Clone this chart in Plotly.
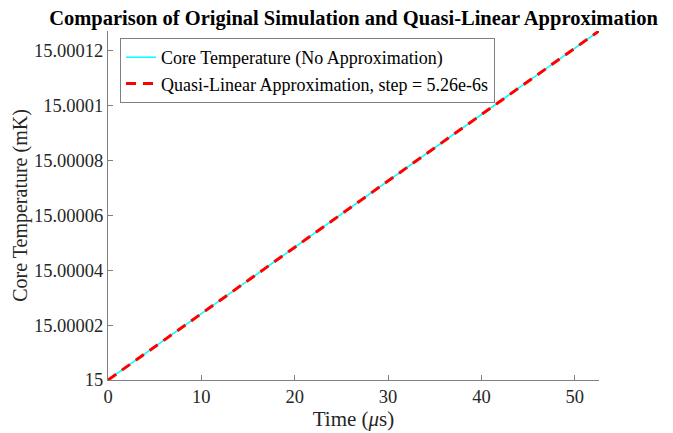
import plotly.graph_objects as go

time_us = [0.0, 5.26, 10.52, 15.78, 21.04, 26.30, 31.56, 36.82, 42.08, 47.34, 52.60]
core_temp_mK = [15.0, 15.0000127, 15.0000254, 15.0000381, 15.0000508, 15.0000635,
                15.0000762, 15.0000889, 15.0001016, 15.0001143, 15.000127]
approx_temp_mK = [15.0, 15.0000127, 15.0000254, 15.0000381, 15.0000508, 15.0000635,
                  15.0000762, 15.0000889, 15.0001016, 15.0001143, 15.000127]
y_tick_vals = [15.0, 15.00002, 15.00004, 15.00006, 15.00008, 15.0001, 15.00012]
y_tick_text = ["15", "15.00002", "15.00004", "15.00006", "15.00008", "15.0001", "15.00012"]
x_tick_vals = [0, 10, 20, 30, 40, 50]

font = "Liberation Serif, Times New Roman, serif"

W, H = 665, 425
L, T, PW, PH = 100, 23, 491, 349

fig = go.Figure()
fig.add_trace(go.Scatter(x=time_us, y=core_temp_mK, mode="lines",
                         name="Core Temperature (No Approximation)",
                         line=dict(color="#00FFFF", width=1.5)))
fig.add_trace(go.Scatter(x=time_us, y=approx_temp_mK, mode="lines",
                         name="Quasi-Linear Approximation, step = 5.26e-6s",
                         line=dict(color="#FF0000", width=3, dash="10px,7px")))

axis_common = dict(showgrid=False, zeroline=False, showline=True, linecolor="#808080",
                   linewidth=1, ticks="inside", ticklen=5, tickcolor="#808080",
                   tickfont=dict(family=font, size=18.5, color="#262626"),
                   mirror=False, automargin=False)

fig.update_layout(
    width=W, height=H,
    margin=dict(l=L, r=W - L - PW, t=T, b=H - T - PH),
    paper_bgcolor="white", plot_bgcolor="white",
    title=dict(text="<b>Comparison of Original Simulation and Quasi-Linear Approximation</b>",
               font=dict(family=font, size=20.5, color="black"),
               x=(L + PW / 2) / W, xanchor="center", y=1 - 10 / H, yanchor="middle"),
    xaxis=dict(range=[0, 52.6], tickvals=x_tick_vals,
               title=dict(text="Time (<i>μ</i>s)", font=dict(family=font, size=21, color="#262626"),
                          standoff=2),
               **axis_common),
    yaxis=dict(range=[15.0, 15.000127], tickvals=y_tick_vals, ticktext=y_tick_text,
               title=dict(text="Core Temperature (mK)", font=dict(family=font, size=20, color="#262626"),
                          standoff=0),
               **axis_common),
    legend=dict(x=12 / PW, y=1 - 7 / PH, xanchor="left", yanchor="top",
                bgcolor="white", bordercolor="#808080", borderwidth=1,
                font=dict(family=font, size=18, color="black"),
                tracegroupgap=0, itemwidth=30),
    showlegend=True,
)

fig.write_html("out.html")
